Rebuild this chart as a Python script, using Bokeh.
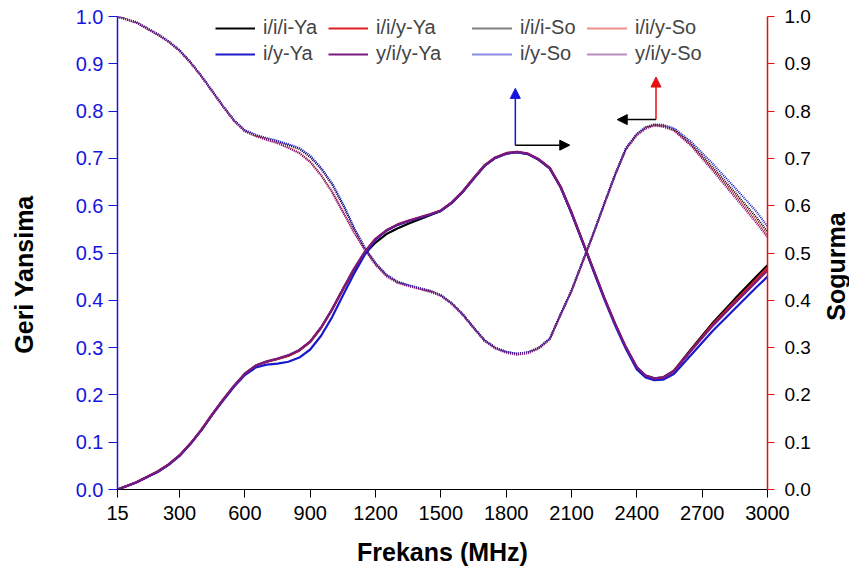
import math
from bokeh.plotting import figure
from bokeh.layouts import row
from bokeh.models import (Range1d, LinearAxis, FixedTicker, Legend, LegendItem,
                          Arrow, NormalHead, PrintfTickFormatter)
from bokeh.core.properties import value
from bokeh.embed import file_html
from bokeh.resources import INLINE

# ---------------- data ----------------
freq = [15, 100, 200, 250, 300, 350, 400, 450, 500, 550, 600, 650, 700, 750, 800, 850,
        900, 950, 1000, 1050, 1100, 1150, 1200, 1250, 1300, 1350, 1400, 1450, 1500,
        1550, 1600, 1650, 1700, 1750, 1800, 1850, 1900, 1950, 2000, 2050, 2100, 2150,
        2200, 2250, 2300, 2350, 2400, 2440, 2480, 2520, 2570, 2650, 2750, 2850, 2950,
        3000]

ya_iii = [0.0, 0.015, 0.038, 0.053, 0.072, 0.097, 0.126, 0.159, 0.19, 0.219, 0.245, 0.262,
          0.270, 0.276, 0.283, 0.294, 0.312, 0.342, 0.38, 0.423, 0.463, 0.498, 0.522,
          0.54, 0.552, 0.562, 0.571, 0.58, 0.589, 0.606, 0.629, 0.657, 0.684, 0.701,
          0.710, 0.713, 0.709, 0.697, 0.679, 0.639, 0.585, 0.525, 0.465, 0.405, 0.35,
          0.3, 0.258, 0.241, 0.235, 0.237, 0.251, 0.297, 0.353, 0.403, 0.451, 0.474]
ya_iiy = [0.0, 0.015, 0.038, 0.053, 0.072, 0.097, 0.126, 0.159, 0.19, 0.219, 0.245, 0.262,
          0.270, 0.276, 0.283, 0.294, 0.312, 0.342, 0.38, 0.423, 0.465, 0.502, 0.53,
          0.548, 0.56, 0.568, 0.575, 0.582, 0.59, 0.607, 0.63, 0.658, 0.685, 0.702,
          0.711, 0.714, 0.71, 0.698, 0.68, 0.64, 0.585, 0.525, 0.465, 0.405, 0.35,
          0.3, 0.258, 0.24, 0.234, 0.236, 0.25, 0.295, 0.35, 0.398, 0.445, 0.468]
ya_iy = [0.0, 0.015, 0.037, 0.052, 0.071, 0.096, 0.125, 0.158, 0.188, 0.217, 0.242, 0.258,
         0.264, 0.266, 0.270, 0.279, 0.296, 0.325, 0.364, 0.41, 0.455, 0.496, 0.528,
         0.547, 0.559, 0.567, 0.574, 0.581, 0.589, 0.606, 0.629, 0.657, 0.684, 0.701,
         0.710, 0.713, 0.709, 0.697, 0.679, 0.639, 0.584, 0.524, 0.463, 0.403, 0.347,
         0.297, 0.254, 0.237, 0.231, 0.232, 0.244, 0.285, 0.336, 0.382, 0.428, 0.450]
ya_yiy = [0.0, 0.015, 0.038, 0.053, 0.072, 0.097, 0.126, 0.159, 0.19, 0.219, 0.245, 0.262,
          0.271, 0.277, 0.284, 0.295, 0.313, 0.343, 0.381, 0.424, 0.466, 0.502, 0.53,
          0.548, 0.56, 0.568, 0.575, 0.582, 0.59, 0.607, 0.63, 0.658, 0.685, 0.702,
          0.711, 0.714, 0.71, 0.698, 0.68, 0.64, 0.586, 0.526, 0.466, 0.406, 0.351,
          0.301, 0.259, 0.241, 0.235, 0.237, 0.25, 0.294, 0.347, 0.394, 0.44, 0.463]

so_iii = [1.0, 0.988, 0.962, 0.947, 0.928, 0.903, 0.874, 0.842, 0.81, 0.78, 0.758, 0.748,
          0.741, 0.736, 0.728, 0.72, 0.703, 0.678, 0.645, 0.602, 0.553, 0.511, 0.478,
          0.453, 0.439, 0.432, 0.426, 0.42, 0.411, 0.394, 0.371, 0.343, 0.316, 0.3,
          0.291, 0.287, 0.29, 0.3, 0.319, 0.371, 0.421, 0.481, 0.541, 0.604, 0.666,
          0.721, 0.751, 0.765, 0.771, 0.769, 0.761, 0.73, 0.68, 0.628, 0.575, 0.545]
so_iiy = [1.0, 0.988, 0.962, 0.947, 0.928, 0.903, 0.874, 0.842, 0.81, 0.78, 0.758, 0.748,
          0.74, 0.733, 0.723, 0.712, 0.693, 0.665, 0.63, 0.588, 0.545, 0.508, 0.476,
          0.452, 0.438, 0.431, 0.425, 0.419, 0.41, 0.393, 0.37, 0.342, 0.315, 0.299,
          0.29, 0.286, 0.289, 0.299, 0.318, 0.37, 0.42, 0.48, 0.54, 0.603, 0.665,
          0.72, 0.75, 0.764, 0.77, 0.768, 0.76, 0.728, 0.676, 0.622, 0.568, 0.537]
so_iy = [1.0, 0.988, 0.963, 0.948, 0.929, 0.904, 0.875, 0.843, 0.811, 0.781, 0.76, 0.75,
         0.743, 0.737, 0.73, 0.722, 0.706, 0.68, 0.648, 0.605, 0.555, 0.512, 0.479,
         0.454, 0.44, 0.432, 0.426, 0.42, 0.411, 0.394, 0.371, 0.343, 0.316, 0.3,
         0.291, 0.287, 0.29, 0.3, 0.319, 0.371, 0.421, 0.481, 0.541, 0.604, 0.666,
         0.722, 0.752, 0.766, 0.772, 0.771, 0.764, 0.735, 0.688, 0.638, 0.587, 0.556]
so_yiy = [0.999, 0.987, 0.961, 0.946, 0.927, 0.902, 0.873, 0.841, 0.809, 0.779, 0.757, 0.747,
          0.739, 0.732, 0.722, 0.711, 0.692, 0.664, 0.629, 0.587, 0.544, 0.507, 0.475,
          0.451, 0.437, 0.43, 0.424, 0.418, 0.409, 0.392, 0.369, 0.341, 0.314, 0.298,
          0.289, 0.285, 0.288, 0.298, 0.317, 0.369, 0.419, 0.479, 0.539, 0.602, 0.664,
          0.719, 0.749, 0.763, 0.769, 0.767, 0.759, 0.726, 0.673, 0.618, 0.563, 0.533]

x_ticks = [15, 300, 600, 900, 1200, 1500, 1800, 2100, 2400, 2700, 3000]
y_ticks = [0.0, 0.1, 0.2, 0.3, 0.4, 0.5, 0.6, 0.7, 0.8, 0.9, 1.0]

left_title = "Geri Yansima"
right_title = "Sogurma"
x_title = "Frekans (MHz)"

# annotation arrows: (x_start, y_start, x_end, y_end)
arrow_ya_up = (1842, 0.728, 1842, 0.848)
arrow_ya_right = (1842, 0.728, 2092, 0.728)
arrow_so_up = (2488, 0.782, 2488, 0.872)
arrow_so_left = (2488, 0.782, 2310, 0.782)

# ---------------- layout / styles ----------------
FONT = "Liberation Sans"
BLACK = "#000000"
RED = "#dd1f1f"
BLUE = "#1a1acc"
PURPLE = "#7a1a80"
AX_BLUE = "#1515dd"
AX_RED = "#e81010"

H = 573
TOP, BOTTOM = 16, 84          # frame borders shared by all three panels
LEFT_W = 60                   # strip holding the left axis title
RIGHT_W = 28                  # strip holding the right axis title
MAIN_W = 849 - LEFT_W - RIGHT_W
# title centres, in page pixels from the top-left corner
LEFT_TITLE_POS = (23, 274)
RIGHT_TITLE_POS = (14, 266)


def title_strip(width, pos, text):
    s = figure(width=width, height=H, output_backend="svg", toolbar_location=None,
               x_range=Range1d(0, width), y_range=Range1d(BOTTOM, H - TOP),
               min_border_left=0, min_border_right=0,
               min_border_top=TOP, min_border_bottom=BOTTOM,
               x_axis_type=None, y_axis_type=None)
    s.outline_line_color = None
    s.grid.visible = False
    s.background_fill_color = "white"
    s.border_fill_color = "white"
    s.text(x=[pos[0]], y=[H - pos[1]], text=[text], angle=math.pi / 2,
           text_align="center", text_baseline="middle",
           text_font=value(FONT), text_font_style="bold", text_font_size="25px",
           text_color=BLACK)
    return s


p = figure(width=MAIN_W, height=H, output_backend="svg", toolbar_location=None,
           x_range=Range1d(15, 3000), y_range=Range1d(0, 1.0),
           min_border_left=117 - LEFT_W, min_border_right=(849 - RIGHT_W) - 767,
           min_border_top=TOP, min_border_bottom=BOTTOM)
p.outline_line_color = None
p.xgrid.visible = False
p.ygrid.visible = False
p.background_fill_color = "white"
p.border_fill_color = "white"

# x axis
xa = p.xaxis[0]
xa.ticker = FixedTicker(ticks=x_ticks)
xa.axis_line_color = BLACK
xa.axis_line_width = 1.2
xa.major_tick_line_color = BLACK
xa.major_tick_out = 8
xa.major_tick_in = 0
xa.minor_tick_line_color = None
xa.major_label_text_font = FONT
xa.major_label_text_font_size = "20px"
xa.major_label_text_color = BLACK
xa.major_label_standoff = 8
xa.axis_label = x_title
xa.axis_label_text_font = FONT
xa.axis_label_text_font_style = "bold"
xa.axis_label_text_font_size = "25px"
xa.axis_label_text_color = BLACK
xa.axis_label_standoff = 15

# left y axis
ya = p.yaxis[0]
ya.ticker = FixedTicker(ticks=y_ticks)
ya.formatter = PrintfTickFormatter(format="%.1f")
ya.axis_line_color = AX_BLUE
ya.axis_line_width = 1.5
ya.major_tick_line_color = AX_BLUE
ya.major_tick_out = 9
ya.major_tick_in = 0
ya.minor_tick_line_color = None
ya.major_label_text_font = FONT
ya.major_label_text_font_size = "20px"
ya.major_label_text_color = AX_BLUE
ya.major_label_standoff = 5

# right y axis
p.extra_y_ranges = {"right": Range1d(0, 1.0)}
ra = LinearAxis(y_range_name="right", ticker=FixedTicker(ticks=y_ticks),
                formatter=PrintfTickFormatter(format="%.1f"))
ra.axis_line_color = AX_RED
ra.axis_line_width = 1.5
ra.major_tick_line_color = AX_RED
ra.major_tick_out = 7
ra.major_tick_in = 0
ra.minor_tick_line_color = None
ra.major_label_text_font = FONT
ra.major_label_text_font_size = "19px"
ra.major_label_text_color = BLACK
ra.major_label_standoff = 10
p.add_layout(ra, "right")

# ---------------- lines ----------------
DOT = "1 1"
r_so_iii = p.line(freq, so_iii, line_color=BLACK, line_width=2, line_dash=DOT)
r_so_iiy = p.line(freq, so_iiy, line_color=RED, line_width=2, line_dash=DOT)
r_so_iy = p.line(freq, so_iy, line_color=BLUE, line_width=2, line_dash=DOT)
r_so_yiy = p.line(freq, so_yiy, line_color=PURPLE, line_width=2, line_dash=DOT)

r_ya_iii = p.line(freq, ya_iii, line_color=BLACK, line_width=2.2)
r_ya_iiy = p.line(freq, ya_iiy, line_color=RED, line_width=2.2)
r_ya_iy = p.line(freq, ya_iy, line_color=BLUE, line_width=2.2)
r_ya_yiy = p.line(freq, ya_yiy, line_color=PURPLE, line_width=2.2)


def make_legend(items, loc):
    lg = Legend(items=items, location=loc, orientation="vertical",
                padding=0, margin=0, spacing=3, glyph_width=40, glyph_height=20,
                label_height=20, label_standoff=8,
                label_text_font=FONT, label_text_font_size="20px",
                background_fill_alpha=0, border_line_alpha=0)
    p.add_layout(lg, "center")
    return lg


LEG_Y = 424
make_legend([LegendItem(label="i/i/i-Ya", renderers=[r_ya_iii]),
             LegendItem(label="i/y-Ya", renderers=[r_ya_iy])], (98, LEG_Y))
make_legend([LegendItem(label="i/i/y-Ya", renderers=[r_ya_iiy]),
             LegendItem(label="y/i/y-Ya", renderers=[r_ya_yiy])], (211, LEG_Y))
make_legend([LegendItem(label="i/i/i-So", renderers=[r_so_iii]),
             LegendItem(label="i/y-So", renderers=[r_so_iy])], (355, LEG_Y))
make_legend([LegendItem(label="i/i/y-So", renderers=[r_so_iiy]),
             LegendItem(label="y/i/y-So", renderers=[r_so_yiy])], (470, LEG_Y))


# ---------------- arrows ----------------
def add_arrow(coords, color):
    x0, y0, x1, y1 = coords
    p.add_layout(Arrow(x_start=x0, y_start=y0, x_end=x1, y_end=y1,
                       line_color=color, line_width=1.5,
                       end=NormalHead(size=10, fill_color=color, line_color=color)))


add_arrow(arrow_ya_up, AX_BLUE)
add_arrow(arrow_ya_right, BLACK)
add_arrow(arrow_so_up, AX_RED)
add_arrow(arrow_so_left, BLACK)

left_strip = title_strip(LEFT_W, LEFT_TITLE_POS, left_title)
right_strip = title_strip(RIGHT_W, RIGHT_TITLE_POS, right_title)

layout = row(left_strip, p, right_strip, spacing=0)
open("out.html", "w").write(file_html(layout, INLINE))
